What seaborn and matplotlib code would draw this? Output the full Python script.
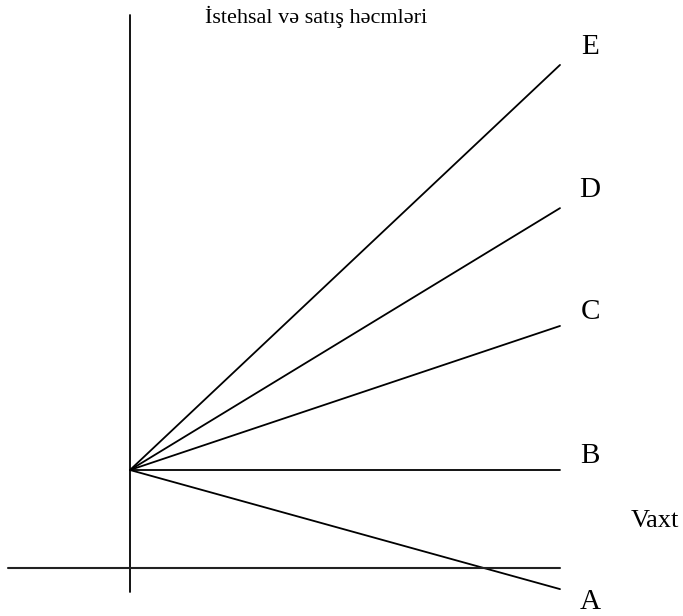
import numpy as np
import pandas as pd
import matplotlib
matplotlib.use("Agg")
import matplotlib.pyplot as plt
import seaborn as sns

# Data (time units vs volume units, origin at the start point)
series = ["A", "B", "C", "D", "E"]
start_time = [0, 0, 0, 0, 0]
end_time = [10, 10, 10, 10, 10]
start_value = [0, 0, 0, 0, 0]
end_value = [-2.77, 0.0, 3.35, 6.09, 9.42]
title_text = "İstehsal və satış həcmləri"
x_label = "Vaxt"

rows = []
for s, t0, t1, v0, v1 in zip(series, start_time, end_time, start_value, end_value):
    rows.append({"series": s, "t": t0, "v": v0})
    rows.append({"series": s, "t": t1, "v": v1})
df = pd.DataFrame(rows)

sns.set_theme(style="white")
plt.rcParams["font.family"] = ["Liberation Serif", "DejaVu Serif"]

fig = plt.figure(figsize=(6.83, 6.16), dpi=100)
ax = fig.add_axes([0, 0, 1, 1])
sns.lineplot(data=df, x="t", y="v", units="series", estimator=None,
             color="black", linewidth=1.3, ax=ax, legend=False)

# axes lines
ax.plot([0, 0], [-2.84, 10.58], color="black", linewidth=1.3)
ax.plot([-2.84, 10.0], [-2.28, -2.28], color="#222222", linewidth=1.5)

ax.set_xlim(-130 / 43, (683 - 130) / 43)
ax.set_ylim(-146 / 43, 470 / 43)
ax.axis("off")

label_dy = {"A": -0.3, "B": 0.33, "C": 0.33, "D": 0.42, "E": 0.42}
for s, t1, v1 in zip(series, end_time, end_value):
    ax.text(t1 + 0.7, v1 + label_dy[s], s, fontsize=21, ha="center", va="center",
            color="black")

ax.text((655 - 130) / 43, (470 - 521) / 43, x_label, fontsize=19, ha="center",
        va="center", color="black")
ax.text((316 - 130) / 43, (470 - 17) / 43, title_text, fontsize=16,
        ha="center", va="center", color="black")

fig.savefig("out.png", dpi=100)
